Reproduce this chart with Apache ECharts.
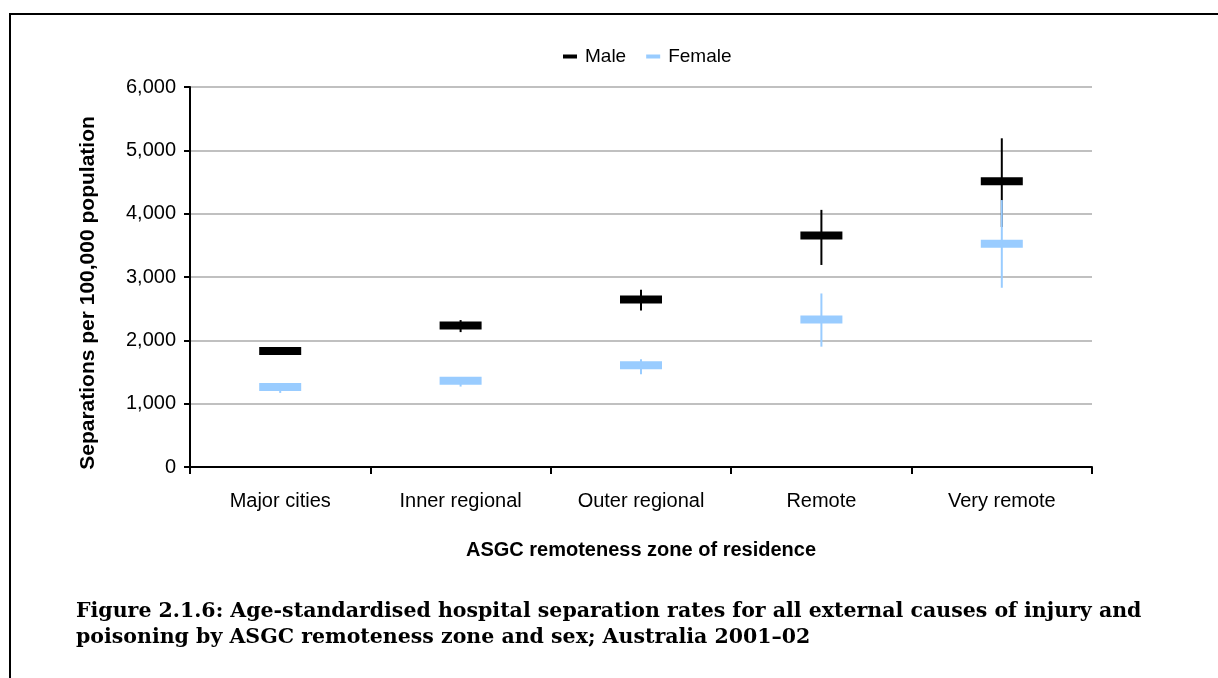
<!DOCTYPE html>
<html>
<head>
<meta charset="utf-8">
<script src="https://cdn.jsdelivr.net/npm/echarts@6/dist/echarts.min.js"></script>
<style>
html,body{margin:0;padding:0;background:#fff;}
#chart{width:1218px;height:678px;}
</style>
</head>
<body>
<div id="chart"></div>
<script>
const categories = ['Major cities', 'Inner regional', 'Outer regional', 'Remote', 'Very remote'];
const maleRate   = [1830, 2235, 2645, 3655, 4510];
const maleLow    = [1800, 2130, 2470, 3190, 3790];
const maleHigh   = [1860, 2320, 2800, 4060, 5190];
const femaleRate = [1265, 1360, 1605, 2330, 3525];
const femaleLow  = [1170, 1270, 1465, 1900, 2830];
const femaleHigh = [1290, 1400, 1700, 2740, 4215];
const yTicks = [0, 1000, 2000, 3000, 4000, 5000, 6000];

const MALE = '#000000';
const FEMALE = '#99CCFF';
const SANS = '"Liberation Sans", Arial, sans-serif';

function buildData(rate, low, high) {
  return categories.map((c, i) => [i, rate[i], low[i], high[i]]);
}

function makeRender(color) {
  return function (params, api) {
    const x = api.value(0);
    const pMid = api.coord([x, api.value(1)]);
    const pLow = api.coord([x, api.value(2)]);
    const pHigh = api.coord([x, api.value(3)]);
    const halfW = 21, halfH = 4;
    return {
      type: 'group',
      children: [
        {
          type: 'rect',
          shape: { x: pMid[0] - halfW, y: pMid[1] - halfH, width: halfW * 2, height: halfH * 2 },
          style: { fill: color }
        },
        {
          type: 'line',
          shape: { x1: pMid[0], y1: pHigh[1], x2: pMid[0], y2: pLow[1] },
          style: { stroke: color, lineWidth: 2 }
        }
      ]
    };
  };
}

const chart = echarts.init(document.getElementById('chart'));
chart.setOption({
  animation: false,
  backgroundColor: '#fff',
  textStyle: { fontFamily: SANS },
  legend: {
    top: 42,
    left: 558,
    itemGap: 20,
    itemWidth: 14,
    itemHeight: 4,
    icon: 'rect',
    textStyle: { fontSize: 19, color: '#000', fontFamily: SANS, padding: [0, 0, 0, 3] },
    data: [
      { name: 'Male', itemStyle: { color: MALE } },
      { name: 'Female', itemStyle: { color: FEMALE } }
    ]
  },
  grid: { left: 190, right: 126, top: 87, bottom: 211, containLabel: false },
  xAxis: {
    type: 'category',
    data: categories,
    boundaryGap: true,
    axisLine: { lineStyle: { color: '#000', width: 2 } },
    axisTick: { show: true, alignWithLabel: false, length: 7, lineStyle: { color: '#000', width: 2 } },
    axisLabel: { fontSize: 20, color: '#000', margin: 24, fontFamily: SANS },
    splitLine: { show: false }
  },
  yAxis: {
    type: 'value',
    min: yTicks[0],
    max: yTicks[yTicks.length - 1],
    interval: 1000,
    axisLine: { show: true, lineStyle: { color: '#000', width: 2 } },
    axisTick: { show: true, length: 6, lineStyle: { color: '#000', width: 2 } },
    axisLabel: {
      fontSize: 20, color: '#000', margin: 14, fontFamily: SANS,
      formatter: v => v.toLocaleString('en-US')
    },
    splitLine: { show: true, lineStyle: { color: '#c0c0c0', width: 2 } }
  },
  series: [
    {
      name: 'Male',
      type: 'custom',
      renderItem: makeRender(MALE),
      itemStyle: { color: MALE },
      encode: { x: 0, y: [1, 2, 3] },
      data: buildData(maleRate, maleLow, maleHigh),
      z: 2
    },
    {
      name: 'Female',
      type: 'custom',
      renderItem: makeRender(FEMALE),
      itemStyle: { color: FEMALE },
      encode: { x: 0, y: [1, 2, 3] },
      data: buildData(femaleRate, femaleLow, femaleHigh),
      z: 3
    }
  ],
  graphic: [
    {
      type: 'rect',
      shape: { x: 10, y: 14, width: 1230, height: 700 },
      style: { fill: 'none', stroke: '#000', lineWidth: 2 },
      silent: true
    },
    {
      type: 'text',
      x: 88, y: 293,
      rotation: Math.PI / 2,
      style: {
        text: 'Separations per 100,000 population',
        font: 'bold 21px ' + SANS,
        fill: '#000',
        align: 'center',
        verticalAlign: 'middle'
      }
    },
    {
      type: 'text',
      x: 641, y: 550,
      style: {
        text: 'ASGC remoteness zone of residence',
        font: 'bold 20px ' + SANS,
        fill: '#000',
        align: 'center',
        verticalAlign: 'middle'
      }
    },
    {
      type: 'text',
      x: 76, y: 612,
      style: {
        text: 'Figure 2.1.6: Age-standardised hospital separation rates for all external causes of injury and',
        font: 'bold 20.5px "DejaVu Serif", serif',
        fill: '#000',
        verticalAlign: 'middle'
      }
    },
    {
      type: 'text',
      x: 76, y: 638,
      style: {
        text: 'poisoning by ASGC remoteness zone and sex; Australia 2001–02',
        font: 'bold 20.5px "DejaVu Serif", serif',
        fill: '#000',
        verticalAlign: 'middle'
      }
    }
  ]
});
</script>
</body>
</html>
